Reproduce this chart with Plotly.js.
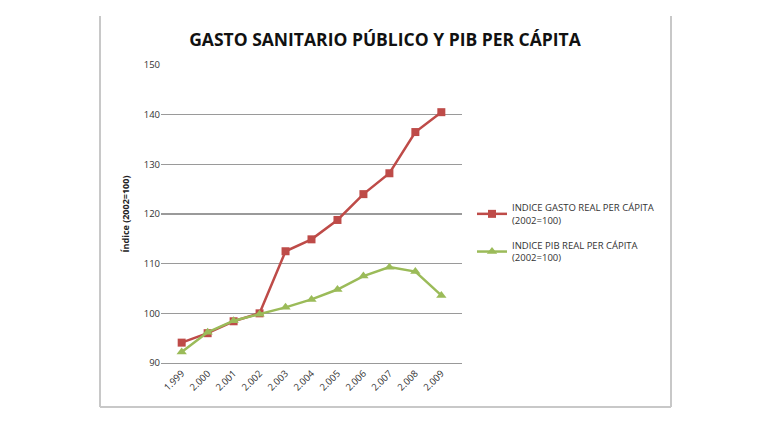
<!DOCTYPE html>
<html>
<head>
<meta charset="utf-8">
<script src="https://cdn.plot.ly/plotly-3.0.1.min.js"></script>
<style>html,body{margin:0;padding:0;background:#fff;}#chart{width:768px;height:432px;}</style>
</head>
<body>
<div id="chart"></div>
<script>
const years = ['1.999','2.000','2.001','2.002','2.003','2.004','2.005','2.006','2.007','2.008','2.009'];
const gastoIndex = [94.1, 96.0, 98.4, 100.0, 112.5, 114.9, 118.8, 124.0, 128.2, 136.5, 140.5];
const pibIndex = [92.2, 96.2, 98.5, 99.8, 101.2, 102.8, 104.8, 107.5, 109.3, 108.4, 103.6];
const gastoName = 'INDICE GASTO REAL PER CÁPITA<br>(2002=100)';
const pibName = 'INDICE PIB REAL PER CÁPITA<br>(2002=100)';
const yTicks = [90, 100, 110, 120, 130, 140, 150];

const font = 'Open Sans, Liberation Sans, sans-serif';
const traces = [
  {x: years, y: gastoIndex, name: gastoName, legendgroup: 'g1', type: 'scatter', mode: 'lines+markers',
   line: {color: '#BE4B48', width: 2.5}, marker: {symbol: 'square', size: 8, color: '#BE4B48'}},
  {x: years, y: pibIndex, name: pibName, legendgroup: 'g2', type: 'scatter', mode: 'lines+markers',
   line: {color: '#9BBB59', width: 2.5}, marker: {symbol: 'triangle-up', size: 9, color: '#9BBB59'}}
];
const W = 301, H = 298;
const bx0 = (100 - 161) / W, bx1 = (671 - 161) / W, byTop = 1 + (65 - 16) / H, byBot = -(407 - 363) / H;
const layout = {
  width: 768, height: 432,
  margin: {l: 161, r: 306, t: 65, b: 69},
  paper_bgcolor: '#fff', plot_bgcolor: '#fff',
  font: {family: font, color: '#333', size: 9},
  title: {text: '<b>GASTO SANITARIO PÚBLICO Y PIB PER CÁPITA</b>', font: {family: font, size: 17.5, color: '#111'},
          x: 385/768, xanchor: 'center', y: 1 - 40/432, yanchor: 'middle'},
  xaxis: {type: 'category', tickangle: -45, showgrid: false, showline: true, linecolor: '#999', linewidth: 1.2,
          ticks: '', tickfont: {size: 9.5, color: '#333'}, zeroline: false},
  yaxis: {range: [90, 150], tickvals: yTicks, showgrid: true, gridcolor: '#9a9a9a', gridwidth: 1.2,
          zeroline: false, showline: false, ticks: '', tickfont: {size: 9.5, color: '#333'},
          title: {text: '<b>Índice (2002=100)</b>', font: {size: 9, color: '#222'}, standoff: 12}},
  showlegend: true,
  legend: {xref: 'container', yref: 'container', x: 472/768, y: 1 - 195/432, xanchor: 'left', yanchor: 'top',
           font: {size: 9.5, color: '#333'}, tracegroupgap: 10, itemwidth: 30, bgcolor: 'rgba(0,0,0,0)'},
  shapes: [
    {type: 'line', xref: 'paper', yref: 'paper', x0: bx0, x1: bx0, y0: byTop, y1: byBot, line: {color: '#c8c8c8', width: 2}},
    {type: 'line', xref: 'paper', yref: 'paper', x0: bx1, x1: bx1, y0: byTop, y1: byBot, line: {color: '#c8c8c8', width: 2}},
    {type: 'line', xref: 'paper', yref: 'paper', x0: bx0, x1: bx1, y0: byBot, y1: byBot, line: {color: '#c8c8c8', width: 2}}
  ]
};
Plotly.newPlot('chart', traces, layout, {displayModeBar: false, staticPlot: true});
</script>
</body>
</html>
